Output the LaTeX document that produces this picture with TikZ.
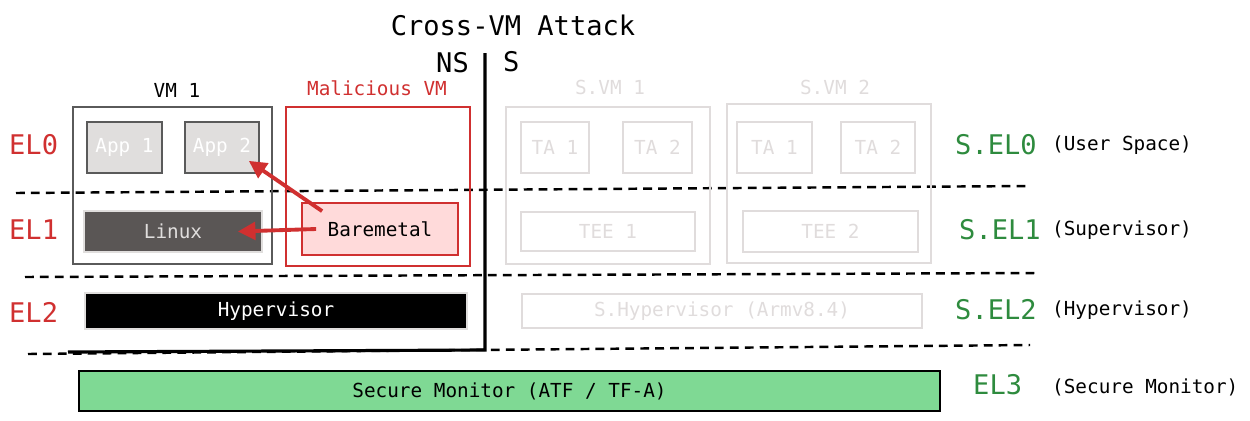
\documentclass[tikz,border=0pt]{standalone}
\usepackage{fontspec}
\setmainfont{DejaVu Sans Mono}
\usetikzlibrary{arrows.meta}
\definecolor{elred}{RGB}{208,48,48}
\definecolor{elgreen}{RGB}{46,139,62}
\definecolor{monfill}{RGB}{127,217,148}
\definecolor{faint}{RGB}{224,220,220}
\definecolor{appfill}{RGB}{224,222,221}
\definecolor{boxgray}{RGB}{90,90,90}
\definecolor{linuxfill}{RGB}{90,86,85}
\definecolor{barefill}{RGB}{255,218,218}
\tikzset{
  small/.style={font=\fontsize{11}{13}\selectfont},
  big/.style={font=\fontsize{15.4}{18}\selectfont},
  box/.style={small, rectangle, draw, line width=1pt, inner sep=0pt},
  sbox/.style={box, draw=faint, text=faint},
  divider/.style={dashed, line width=1.4pt, dash pattern=on 5pt off 3.5pt},
  atk/.style={elred, line width=2.2pt, -{Triangle[length=10pt,width=10pt]}}
}
\begin{document}
\begin{tikzpicture}[x=0.02cm, y=-0.02cm]
	\useasboundingbox (0,0) rectangle (1250,420);
	\node [big] (title) at (513,25) {Cross-VM Attack};
	\node [big, anchor=east] (ns) at (475,63) {NS};
	\node [big, anchor=west] (s) at (497,62) {S};
	\draw [divider] (16,193) -- (1030,186);
	\draw [divider] (25,277) -- (1037,273);
	\draw [divider] (28,354) -- (1030,345);
	\coordinate (wtop) at (485,53);
	\coordinate (wcorner) at (485,350);
	\coordinate (wleft) at (68,352);
	\draw [line width=1.8pt] (wleft) -- (wcorner) -- (wtop);
	\node [box, draw=boxgray, minimum width=3.98cm, minimum height=3.14cm] (vm1) at (172.5,185.5) {};
	\node [small] (vm1lbl) at (177,90) {VM 1};
	\node [box, draw=boxgray, fill=appfill, text=white, minimum width=1.5cm, minimum height=1.02cm] (app1) at (124.5,147.5) {App 1};
	\node [box, draw=boxgray, fill=appfill, text=white, minimum width=1.48cm, minimum height=1.02cm] (app2) at (222,147.5) {App 2};
	\node [box, draw=appfill, fill=linuxfill, text=appfill, minimum width=3.56cm, minimum height=0.82cm] (linux) at (173,231.5) {Linux};
	\node [box, draw=elred, minimum width=3.68cm, minimum height=3.18cm] (malvm) at (378,186.5) {};
	\node [small, text=elred] (malvmlbl) at (377,88) {Malicious VM};
	\node [box, draw=elred, fill=barefill, minimum width=3.12cm, minimum height=1.04cm] (bare) at (380,229) {Baremetal};
	\node [box, draw=appfill, fill=black, text=white, minimum width=7.64cm, minimum height=0.72cm] (hyp) at (276,311) {Hypervisor};
	\node [box, draw=black, fill=monfill, minimum width=17.22cm, minimum height=0.8cm] (mon) at (509.5,391) {Secure Monitor (ATF / TF-A)};
	\node [sbox, minimum width=4.08cm, minimum height=3.14cm] (svm1) at (608,185.5) {};
	\node [sbox, minimum width=4.08cm, minimum height=3.18cm] (svm2) at (829,183.5) {};
	\node [small, text=faint] (svm1lbl) at (610,87) {S.VM 1};
	\node [small, text=faint] (svm2lbl) at (835,87) {S.VM 2};
	\node [sbox, minimum width=1.36cm, minimum height=1.02cm] (ta1) at (555,147.5) {TA 1};
	\node [sbox, minimum width=1.38cm, minimum height=1.02cm] (ta2) at (657.5,147.5) {TA 2};
	\node [sbox, minimum width=1.5cm, minimum height=1.02cm] (ta3) at (774.5,147.5) {TA 1};
	\node [sbox, minimum width=1.48cm, minimum height=1.02cm] (ta4) at (878,147.5) {TA 2};
	\node [sbox, minimum width=3.48cm, minimum height=0.78cm] (tee1) at (608,231.5) {TEE 1};
	\node [sbox, minimum width=3.5cm, minimum height=0.82cm] (tee2) at (830.5,231.5) {TEE 2};
	\node [sbox, minimum width=8cm, minimum height=0.68cm] (shyp) at (722,311) {S.Hypervisor (Armv8.4)};
	\draw [atk] ([shift={(0.42cm,-0.18cm)}]bare.north west) -- ([shift={(-0.22cm,0.26cm)}]app2.south east);
	\draw [atk] ([xshift=0.3cm]bare.west) -- ([xshift=-0.5cm]linux.east);
	\node [big, text=elred, anchor=west] (el0) at (3,145) {EL0};
	\node [big, text=elred, anchor=west] (el1) at (3,230) {EL1};
	\node [big, text=elred, anchor=west] (el2) at (3,312) {EL2};
	\node [big, text=elgreen, anchor=west] (sel0) at (949,145) {S.EL0};
	\node [big, text=elgreen, anchor=west] (sel1) at (953,230) {S.EL1};
	\node [big, text=elgreen, anchor=west] (sel2) at (949,310) {S.EL2};
	\node [big, text=elgreen, anchor=west] (el3) at (967,385) {EL3};
	\node [small, anchor=west] (usr) at (1046,145) {(User Space)};
	\node [small, anchor=west] (sup) at (1046,230) {(Supervisor)};
	\node [small, anchor=west] (hypl) at (1046,310) {(Hypervisor)};
	\node [small, anchor=west] (mont) at (1046,387) {(Secure Monitor)};
\end{tikzpicture}
\end{document}
